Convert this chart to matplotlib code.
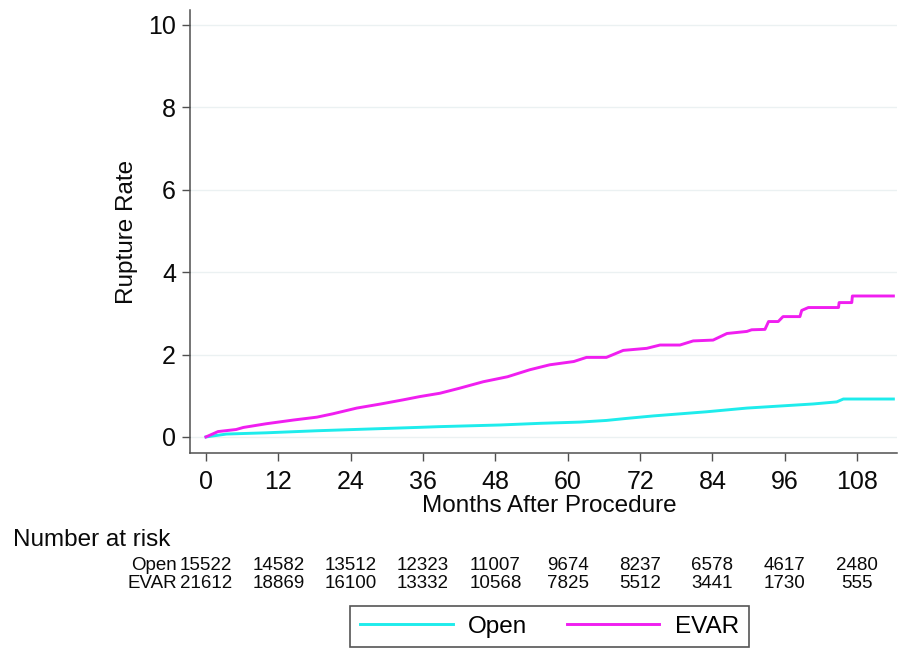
import matplotlib
matplotlib.use("Agg")
import matplotlib.pyplot as plt
import matplotlib.transforms as mtransforms

plt.rcParams['font.family'] = ['Liberation Sans', 'DejaVu Sans']

# cumulative rupture rate (months, %)
months_open = [0, 3.4, 10, 18.4, 26.6, 34.9, 38.8, 48.8, 55.4, 62, 66.4, 69.8,
               74.2, 78.6, 83, 89.7, 95.2, 100.7, 104.6, 105.7, 114]
rate_open = [0, 0.07, 0.10, 0.15, 0.19, 0.23, 0.25, 0.29, 0.33, 0.36, 0.40, 0.45,
             0.51, 0.56, 0.61, 0.70, 0.75, 0.80, 0.85, 0.92, 0.92]

months_evar = [0, 2, 5, 6.2, 10, 14.5, 18.4, 21, 25, 29, 32.7, 35.5, 38.8, 42, 46,
               50, 53.7, 57, 61, 63.1, 66.4, 69.2, 73.1, 75.3, 78.6, 80.8, 84.1,
               86.4, 89.7, 90.5, 92.7, 93.3, 94.9, 95.7, 98.5, 98.8, 99.9, 104.9,
               105.0, 107.1, 107.2, 114]
rate_evar = [0, 0.13, 0.18, 0.23, 0.32, 0.41, 0.48, 0.56, 0.70, 0.80, 0.90, 0.98,
             1.06, 1.18, 1.34, 1.46, 1.63, 1.75, 1.83, 1.93, 1.93, 2.10, 2.15, 2.23,
             2.23, 2.33, 2.35, 2.51, 2.56, 2.60, 2.61, 2.80, 2.80, 2.92, 2.92, 3.07,
             3.14, 3.14, 3.26, 3.26, 3.42, 3.42]

risk_months = [0, 12, 24, 36, 48, 60, 72, 84, 96, 108]
risk_open = [15522, 14582, 13512, 12323, 11007, 9674, 8237, 6578, 4617, 2480]
risk_evar = [21612, 18869, 16100, 13332, 10568, 7825, 5512, 3441, 1730, 555]

y_ticks = [0, 2, 4, 6, 8, 10]

c_open = '#1EECEC'
c_evar = '#F01EF0'
axis_col = '#505050'
txt_col = '#0A0A0A'

W, H = 899, 649
fig = plt.figure(figsize=(W / 100, H / 100), dpi=100)
ax = fig.add_axes([190 / W, 1 - 453 / H, 707 / W, 443 / H])

ax.plot(months_open, rate_open, color=c_open, lw=2.1, label='Open', zorder=3)
ax.plot(months_evar, rate_evar, color=c_evar, lw=2.1, label='EVAR', zorder=3)

ax.set_xlim(-2.65, 114.6)
ax.set_ylim(-0.39, 10.36)
ax.set_xticks(risk_months)
ax.set_yticks(y_ticks)
ax.grid(axis='y', color='#EBF1F2', lw=1.0)
ax.set_axisbelow(True)

for s in ['top', 'right']:
    ax.spines[s].set_visible(False)
for s in ['left', 'bottom']:
    ax.spines[s].set_color(axis_col)
    ax.spines[s].set_linewidth(1.1)

ax.tick_params(axis='both', colors=axis_col, labelcolor=txt_col,
               labelsize=18, length=6, width=1.0)
ax.tick_params(axis='x', pad=6)
ax.tick_params(axis='y', pad=4)

ax.set_xlabel('Months After Procedure', fontsize=17.5, color=txt_col, va='center')
ax.xaxis.set_label_coords(0.508, -0.12)
ax.set_ylabel('Rupture Rate', fontsize=17.5, color=txt_col, va='center')
ax.yaxis.set_label_coords(-0.089, 0.5)

# number at risk table
fig.text(13 / W, 1 - 540 / H, 'Number at risk', fontsize=17.5, va='center',
         color=txt_col)
trans = mtransforms.blended_transform_factory(ax.transData, fig.transFigure)
for name, vals, ypix in [('Open', risk_open, 565), ('EVAR', risk_evar, 584)]:
    fig.text(177 / W, 1 - ypix / H, name, fontsize=13.5, ha='right', va='center',
             color=txt_col)
    for m, v in zip(risk_months, vals):
        ax.text(m, 1 - ypix / H, str(v), transform=trans, fontsize=13.5,
                ha='center', va='center', color=txt_col, clip_on=False)

leg = fig.legend(loc='center', bbox_to_anchor=(549.5 / W, 1 - 626.5 / H), ncol=2,
                 fontsize=17.5, handlelength=3.8, handletextpad=0.65,
                 columnspacing=1.6, fancybox=False, framealpha=1,
                 edgecolor='#555555', borderpad=0.4)
leg.get_frame().set_linewidth(1.2)

fig.savefig('out.png', dpi=100)
